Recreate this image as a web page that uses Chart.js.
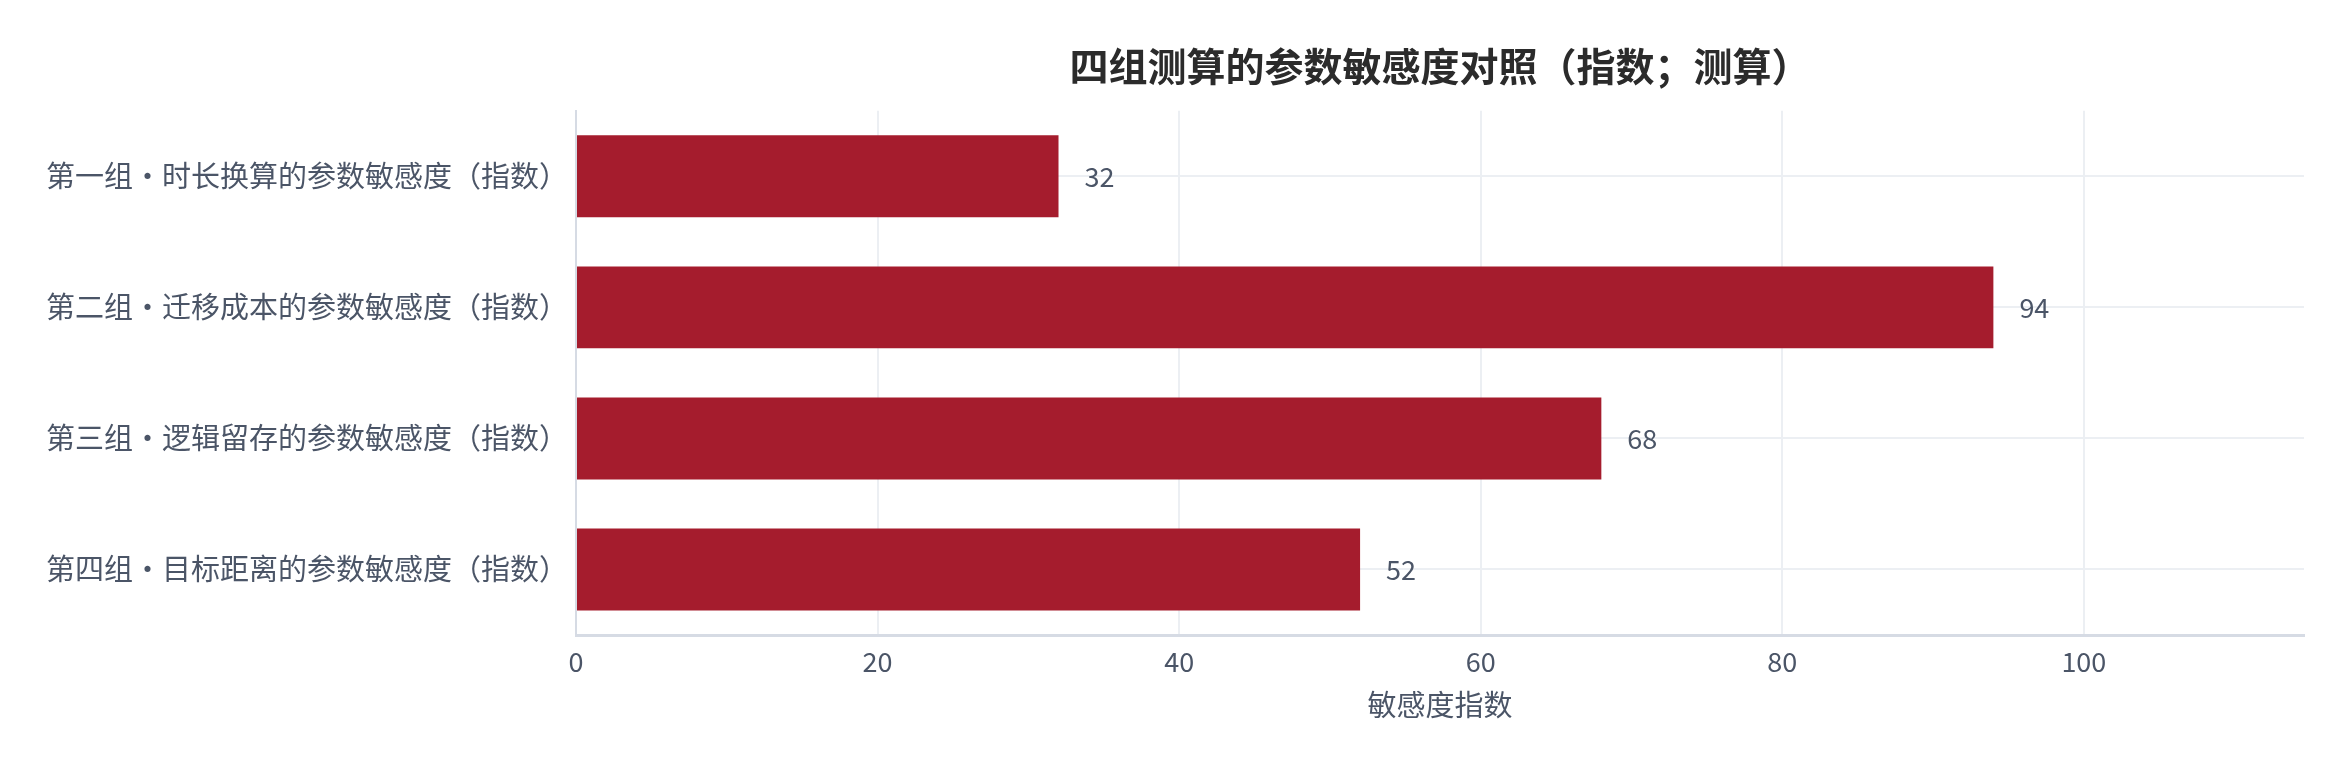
<!DOCTYPE html>
<html>
<head>
<meta charset="utf-8">
<script src="https://cdn.jsdelivr.net/npm/chart.js@4.4.1/dist/chart.umd.min.js"></script>
<style>
  html, body { margin: 0; padding: 0; background: #fff; }
  #wrap { width: 2348px; height: 764px; }
</style>
</head>
<body>
<div id="wrap"><canvas id="sensChart"></canvas></div>
<script>
// Data for the chart
const categories = [
  "第一组・时长换算的参数敏感度（指数）",
  "第二组・迁移成本的参数敏感度（指数）",
  "第三组・逻辑留存的参数敏感度（指数）",
  "第四组・目标距离的参数敏感度（指数）"
];
const values = [32, 94, 68, 52];
const xTicks = [0, 20, 40, 60, 80, 100];

const FONT = '"Noto Sans CJK SC", "Noto Sans", sans-serif';
const textColor = "#4b5567";

// value labels just past the end of each bar
const valueLabels = {
  id: "valueLabels",
  afterDatasetsDraw(chart) {
    const ctx = chart.ctx;
    const meta = chart.getDatasetMeta(0);
    ctx.save();
    ctx.font = "27px " + FONT;
    ctx.fillStyle = textColor;
    ctx.textAlign = "left";
    ctx.textBaseline = "middle";
    meta.data.forEach((bar, i) => {
      ctx.fillText(String(values[i]), bar.x + 26, bar.y);
    });
    ctx.restore();
  }
};

const config = {
  type: "bar",
  data: {
    labels: categories,
    datasets: [{
      data: values,
      backgroundColor: "#a51c2d",
      borderWidth: 0,
      barPercentage: 0.625,
      categoryPercentage: 1
    }]
  },
  options: {
    indexAxis: "y",
    responsive: true,
    maintainAspectRatio: false,
    animation: false,
    layout: { padding: { left: 0, right: 44, top: 0, bottom: 0 } },
    plugins: {
      legend: { display: false },
      tooltip: { enabled: false },
      title: {
        display: true,
        text: "四组测算的参数敏感度对照（指数；测算）",
        fullSize: false,
        color: "#2b2b2b",
        font: { family: FONT, size: 39, weight: "bold" },
        padding: { top: 43, bottom: 21 }
      }
    },
    scales: {
      x: {
        min: 0,
        max: 114.6,
        afterBuildTicks(scale) {
          scale.ticks = xTicks.map(v => ({ value: v }));
        },
        afterFit(scale) { scale.height = 129; },
        ticks: {
          color: textColor,
          font: { family: FONT, size: 27 },
          padding: 11,
          maxRotation: 0
        },
        grid: { color: "#eceff3", lineWidth: 2, drawTicks: false },
        border: { display: true, color: "#d6dbe4", width: 3 },
        title: {
          display: true,
          text: "敏感度指数",
          color: textColor,
          font: { family: FONT, size: 29 },
          padding: { top: 4, bottom: 42 }
        }
      },
      y: {
        afterFit(scale) { scale.width = 576; },
        ticks: {
          color: textColor,
          font: { family: FONT, size: 29 },
          padding: 8
        },
        grid: { color: "#eceff3", lineWidth: 2, drawTicks: false, offset: false },
        border: { display: true, color: "#d6dbe4", width: 2 }
      }
    }
  },
  plugins: [valueLabels]
};

window.addEventListener("DOMContentLoaded", () => {
  const sensChart = new Chart(document.getElementById("sensChart"), config);
});
</script>
</body>
</html>
